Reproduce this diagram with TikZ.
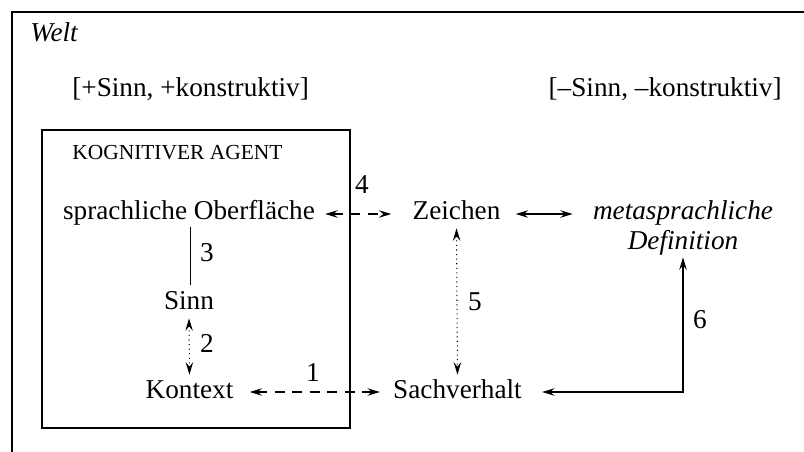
\documentclass[tikz,border=0pt]{standalone}
\usepackage{fontspec}
\setmainfont{Liberation Serif}
\usetikzlibrary{arrows.meta}

\newcommand{\bigtxt}{\fontsize{15.5}{18}\selectfont}
\newcommand{\smalltxt}{\fontsize{12.2}{14}\selectfont}

\tikzset{
  txt/.style={font=\bigtxt, inner sep=0pt, text height=0.38cm, text depth=0.14cm},
  num/.style={font=\bigtxt, inner sep=0pt},
  tipline/.style={line width=0.6pt, {Stealth[length=0.25cm,width=0.15cm,inset=0.09cm]}-{Stealth[length=0.25cm,width=0.15cm,inset=0.09cm]}},
  dashline/.style={dash pattern=on 0.2cm off 0.15cm},
}

\begin{document}
\begin{tikzpicture}[x=0.02cm, y=-0.02cm]
    \useasboundingbox (0,0) rectangle (804,452);

    % Draw the world frame
    \draw[line width=0.9pt] (804,12) -- (12,12) -- (12,452);
    \node[txt, font=\bigtxt\itshape, anchor=base west] (welt) at (30,42) {Welt};

    % Draw the two feature labels
    \node[txt, anchor=base west] (plus) at (72,97) {[+Sinn, +konstruktiv]};
    \node[txt, anchor=base east] (minus) at (782,97) {[--Sinn, --konstruktiv]};

    % Draw the agent box
    \draw[line width=0.9pt] (42,130) rectangle (350,428);
    \node[txt, font=\smalltxt, anchor=base west] (agent) at (72,160) {KOGNITIVER AGENT};

    % Draw the terms
    \node[txt, anchor=base] (ober) at (189,220) {sprachliche Oberfläche};
    \node[txt, anchor=base] (sinn) at (189,310) {Sinn};
    \node[txt, anchor=base] (kontext) at (189.5,398) {Kontext};
    \node[txt, anchor=base] (zeichen) at (456.5,220) {Zeichen};
    \node[txt, anchor=base] (sach) at (457.5,398) {Sachverhalt};
    \node[txt, font=\bigtxt\itshape, anchor=base] (meta) at (683,220) {metasprachliche};
    \node[txt, font=\bigtxt\itshape, anchor=base] (defn) at (683,250) {Definition};

    % Draw the relations and their numbers
    \draw[tipline, dashline, shorten <=0.32cm, shorten >=0.26cm] (kontext.east) -- (sach.west);
    \node[num] (n1) at (313,373) {1};

    \draw[tipline, dotted, shorten <=0.02cm, shorten >=0.08cm] (sinn.south) -- (kontext.north);
    \node[num] (n2) at (207,343) {2};

    \draw[line width=0.6pt, shorten >=0.12cm] ([xshift=1]ober.south) -- ([xshift=1]sinn.north);
    \node[num] (n3) at (207,253) {3};

    \draw[tipline, dashline, shorten <=0.2cm, shorten >=0.42cm] (ober.east) -- (zeichen.west);
    \node[num] (n4) at (362,185) {4};

    \draw[tipline, dotted, shorten <=0.02cm, shorten >=0.08cm] (zeichen.south) -- (sach.north);
    \node[num] (n5) at (475,302) {5};

    \draw[tipline, shorten <=0.3cm, shorten >=0.4cm] (zeichen.east) -- (meta.west);

    \draw[tipline, shorten <=0.4cm] (sach.east) -| (defn.south);
    \node[num] (n6) at (700,320) {6};

\end{tikzpicture}
\end{document}
